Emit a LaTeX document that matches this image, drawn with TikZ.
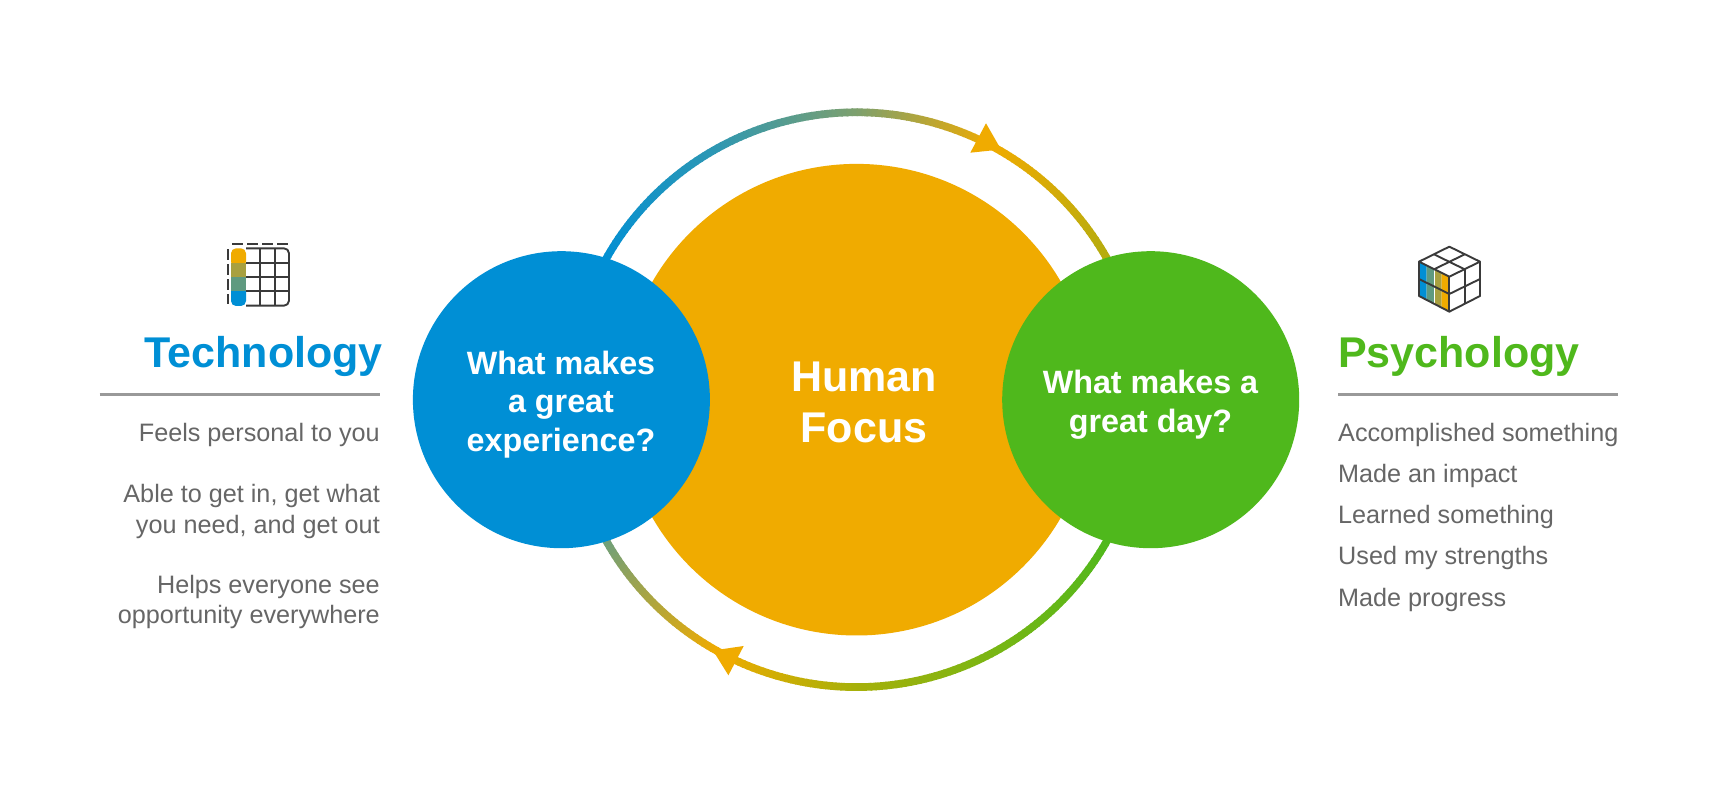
\documentclass[tikz,border=0pt]{standalone}
\usepackage{fontspec}
\setmainfont{Liberation Sans}
\definecolor{cblue}{HTML}{008FD5}
\definecolor{corange}{HTML}{F0AB00}
\definecolor{cgreen}{HTML}{4FB81C}
\definecolor{cgray}{HTML}{666666}
\definecolor{crule}{HTML}{999999}
\definecolor{cicon}{HTML}{3A3A3A}
\definecolor{rA}{HTML}{008FD5}
\definecolor{rB}{HTML}{2C97B4}
\definecolor{rC}{HTML}{7DA06E}
\definecolor{rD}{HTML}{F0AB00}
\definecolor{rE}{HTML}{B2AC10}
\definecolor{rF}{HTML}{4FB81C}
\definecolor{rG}{HTML}{76B614}
\definecolor{rH}{HTML}{A6B00A}
\definecolor{rI}{HTML}{F0AB00}
\definecolor{rJ}{HTML}{6A9F7F}
\definecolor{iA}{HTML}{A8A040}
\definecolor{iB}{HTML}{5F9A80}
\tikzset{
  bigdisc/.style={circle,inner sep=0pt,minimum size=#1},
  head/.style={font=\fontsize{43}{46}\selectfont\bfseries,inner sep=0pt},
  item/.style={font=\fontsize{25.2}{30}\selectfont,text=cgray,inner sep=0pt},
  disclabel/.style={font=\fontsize{32.3}{38}\selectfont\bfseries,text=white,inner sep=0pt,align=center},
  biglabel/.style={font=\fontsize{43}{50}\selectfont\bfseries,text=white,inner sep=0pt,align=center},
  rulerline/.style={line width=2.4pt,color=crule},
  iconline/.style={line width=1.9pt,draw=cicon,line join=round},
  icondash/.style={line width=1.9pt,draw=cicon,dash pattern=on 10.7pt off 4.2pt},
}
\begin{document}
\begin{tikzpicture}[x=1pt,y=1pt]
\useasboundingbox (0,0) rectangle (1711,800);
\fill[white] (0,0) rectangle (1711,800);
\coordinate (ctr) at (856.6,400.3);
% ring
\foreach \aa/\ab/\ca/\cb in {152/120/rA/rB,120/90/rB/rC,90/62/rC/rD,62/28/rD/rE,28/24/rE/rE,
  -24/-29/rF/rF,-29/-60/rF/rG,-60/-90/rG/rH,-90/-119/rH/rI,-119/-152/rI/rJ}{
  \pgfmathtruncatemacro{\nseg}{abs(\aa-\ab)}
  \foreach \i in {1,...,\nseg}{
    \pgfmathsetmacro{\st}{\aa+(\ab-\aa)*(\i-1)/\nseg}
    \pgfmathsetmacro{\en}{\aa+(\ab-\aa)*(\i+0.25)/\nseg}
    \pgfmathsetmacro{\pc}{100*(\i-0.5)/\nseg}
    \draw[line width=7.7pt,color=\cb!\pc!\ca] (ctr) ++(\st:287.4) arc[start angle=\st,end angle=\en,radius=287.4];
  }
}
% arrowheads
\coordinate (ta) at (986,676.7);
\coordinate (tb) at (970.3,647.3);
\coordinate (tc) at (1001,650.5);
\coordinate (ba) at (743.7,154);
\coordinate (bb) at (728.4,124.7);
\coordinate (bc) at (713,149.5);
\fill[corange] (ta) -- (tb) -- (tc) -- cycle;
\fill[corange] (ba) -- (bb) -- (bc) -- cycle;
% discs
\node[bigdisc=471.6pt,fill=corange] (focus) at (ctr) {};
\node[bigdisc=297pt,fill=cblue] (exp) at (561.4,400.3) {};
\node[bigdisc=297pt,fill=cgreen] (day) at (1150.7,400.3) {};
\node[biglabel,anchor=base] (hf1) at (864,408) {Human};
\node[biglabel,anchor=base] (hf2) at (864,357) {Focus};
\node[disclabel,anchor=base] (e1) at (561,425) {What makes};
\node[disclabel,anchor=base] (e2) at (561,387) {a great};
\node[disclabel,anchor=base] (e3) at (561,348.5) {experience?};
\node[disclabel,anchor=base] (d1) at (1150.5,406) {What makes a};
\node[disclabel,anchor=base] (d2) at (1150.5,367) {great day?};
% left column
\node[head,text=cblue,anchor=base east] (tech) at (383,432) {Technology};
\coordinate (tl) at (99.5,405.5);
\coordinate (tr) at (380,405.5);
\draw[rulerline] (tl) -- (tr);
\node[item,anchor=base east] (t1) at (380,358) {Feels personal to you};
\node[item,anchor=base east] (t2) at (380,297) {Able to get in, get what};
\node[item,anchor=base east] (t3) at (380,266.5) {you need, and get out};
\node[item,anchor=base east] (t4) at (380,206.5) {Helps everyone see};
\node[item,anchor=base east] (t5) at (380,176) {opportunity everywhere};
% right column
\node[head,text=cgreen,anchor=base west] (psy) at (1338,432) {Psychology};
\coordinate (pl) at (1338,405.5);
\coordinate (pr) at (1617.5,405.5);
\draw[rulerline] (pl) -- (pr);
\node[item,anchor=base west] (p1) at (1338,358) {Accomplished something};
\node[item,anchor=base west] (p2) at (1338,317) {Made an impact};
\node[item,anchor=base west] (p3) at (1338,276) {Learned something};
\node[item,anchor=base west] (p4) at (1338,235) {Used my strengths};
\node[item,anchor=base west] (p5) at (1338,193.5) {Made progress};
% grid icon (coordinates: zoom pixels)
\begin{scope}[shift={(200,580)},x=0.33333pt,y=-0.33333pt]
  \fill[corange,rounded corners=5pt] (93,140) -- (93,85) -- (138,85) -- (138,140) -- cycle;
  \fill[cblue,rounded corners=5pt] (93,200) -- (93,258) -- (138,258) -- (138,200) -- cycle;
  \fill[iA] (93,128) rectangle (138,170);
  \fill[iB] (93,170) rectangle (138,213);
  \draw[iconline,rounded corners=5pt] (138,85) -- (267,85) -- (267,257) -- (138,257);
  \draw[iconline] (181,85) -- (181,257) (224,85) -- (224,257);
  \draw[iconline] (138,128) -- (267,128) (138,170) -- (267,170) (138,213) -- (267,213);
  \draw[icondash] (97,73) -- (263,73);
  \draw[icondash] (83,88) -- (83,252);
\end{scope}
% cube icon (coordinates: zoom pixels)
\begin{scope}[shift={(1390,575)},x=0.33333pt,y=-0.33333pt]
  \fill[cblue] (87,110) -- (110,122) -- (110,225) -- (87,213) -- cycle;
  \fill[iB] (110,122) -- (132,133) -- (132,237) -- (110,225) -- cycle;
  \fill[iA] (132,133) -- (155,144) -- (155,248) -- (132,237) -- cycle;
  \fill[corange] (155,144) -- (178,155) -- (178,260) -- (155,248) -- cycle;
  \draw[line width=1pt,white] (132,133) -- (132,237);
  \draw[iconline] (178,65) -- (270,110) -- (178,155) -- (87,110) -- cycle;
  \draw[iconline] (87,110) -- (87,213) -- (178,260) -- (270,213) -- (270,110);
  \draw[iconline] (178,155) -- (178,260);
  \draw[iconline] (132,88) -- (224,133) (224,88) -- (132,133);
  \draw[iconline] (224,133) -- (224,237);
  \draw[iconline] (87,162) -- (178,207) -- (270,162);
\end{scope}
\end{tikzpicture}
\end{document}
